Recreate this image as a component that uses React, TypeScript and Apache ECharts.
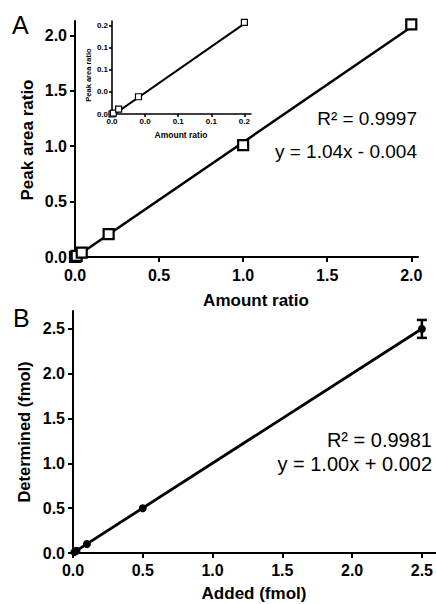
import React, { useEffect, useRef } from "react";
import * as echarts from "echarts";

// Panel A data
const amountA = [0, 0.002, 0.01, 0.04, 0.2, 1.0, 2.0];
const peakA = [0, 0.002, 0.011, 0.039, 0.207, 1.01, 2.1];
const fitAx = [0, 2.0];
const fitAy = [-0.004, 2.076];
const insetFitX = [0, 0.2];
const insetFitY = [-0.004, 0.204];
const ticksA = [0, 0.5, 1.0, 1.5, 2.0];
const insetTicks = [0, 0.05, 0.1, 0.15, 0.2];
const insetTickLabels = ["0.0", "0.0", "0.1", "0.1", "0.2"];

// Panel B data
const addedB = [0.01, 0.025, 0.1, 0.5, 2.5];
const detB = [0.01, 0.025, 0.1, 0.5, 2.5];
const errB = [0, 0, 0, 0, 0.1];
const fitBx = [0, 2.5];
const fitBy = [0.002, 2.502];
const ticksB = [0, 0.5, 1.0, 1.5, 2.0, 2.5];

const FONT = 'Arial, "Liberation Sans", Helvetica, sans-serif';

const axisCommon = (fs: number, margin: number, width = 2, tickLen = 5) => ({
  axisLine: { show: true, onZero: false, lineStyle: { color: "#000", width } },
  axisTick: { show: true, inside: false, length: tickLen, lineStyle: { color: "#000", width } },
  splitLine: { show: false },
  axisLabel: {
    color: "#000",
    fontFamily: FONT,
    fontWeight: "bold",
    fontSize: fs,
    margin,
    hideOverlap: false,
  },
});

export default function App() {
  const ref = useRef<HTMLDivElement>(null);
  useEffect(() => {
    if (!ref.current) return;
    const chart = echarts.init(ref.current, undefined, { renderer: "svg" });
    const mk = (xs: number[], ys: number[]) => xs.map((x, i) => [x, ys[i]]);
    const lbl = (v: number) => v.toFixed(1);
    const xA = axisCommon(16, 10);
    const yA = axisCommon(16, 8);
    const xI = axisCommon(8, 3, 1.6, 3);
    const yI = axisCommon(8, 4, 1.6, 3);
    const xB = axisCommon(16, 9);
    const yB = axisCommon(16, 8);
    const insetFmt = (v: number) => {
      const i = insetTicks.findIndex((t) => Math.abs(t - v) < 1e-6);
      return i >= 0 ? insetTickLabels[i] : "";
    };
    chart.setOption({
      animation: false,
      backgroundColor: "#fff",
      grid: [
        { left: 75, top: 21, width: 343, height: 236 },
        { left: 112, top: 21, width: 139, height: 93 },
        { left: 73, top: 311, width: 363, height: 242 },
      ],
      xAxis: [
        {
          gridIndex: 0, type: "value", min: 0, max: 2.04,
          ...xA,
          axisTick: { ...xA.axisTick, customValues: ticksA },
          axisLabel: { ...xA.axisLabel, customValues: ticksA, formatter: lbl },
        },
        {
          gridIndex: 1, type: "value", min: 0, max: 0.21,
          ...xI,
          axisTick: { ...xI.axisTick, customValues: insetTicks },
          axisLabel: { ...xI.axisLabel, customValues: insetTicks, formatter: insetFmt },
        },
        {
          gridIndex: 2, type: "value", min: 0, max: 2.6,
          ...xB,
          axisTick: { ...xB.axisTick, customValues: ticksB },
          axisLabel: { ...xB.axisLabel, customValues: ticksB, formatter: lbl },
        },
      ],
      yAxis: [
        {
          gridIndex: 0, type: "value", min: 0, max: 2.13,
          ...yA,
          axisTick: { ...yA.axisTick, customValues: ticksA },
          axisLabel: { ...yA.axisLabel, customValues: ticksA, formatter: lbl },
        },
        {
          gridIndex: 1, type: "value", min: 0, max: 0.21,
          ...yI,
          axisTick: { ...yI.axisTick, customValues: insetTicks },
          axisLabel: { ...yI.axisLabel, customValues: insetTicks, formatter: insetFmt },
        },
        {
          gridIndex: 2, type: "value", min: 0, max: 2.7,
          ...yB,
          axisTick: { ...yB.axisTick, customValues: ticksB },
          axisLabel: { ...yB.axisLabel, customValues: ticksB, formatter: lbl },
        },
      ],
      series: [
        {
          type: "line", xAxisIndex: 0, yAxisIndex: 0, data: mk(fitAx, fitAy),
          symbol: "none", lineStyle: { color: "#000", width: 2.5 }, z: 2,
        },
        {
          type: "scatter", xAxisIndex: 0, yAxisIndex: 0, data: mk(amountA, peakA),
          symbol: "rect", symbolSize: 10,
          itemStyle: { color: "#fff", borderColor: "#000", borderWidth: 2.2, opacity: 1 }, z: 3,
        },
        {
          type: "line", xAxisIndex: 1, yAxisIndex: 1, data: mk(insetFitX, insetFitY),
          symbol: "none", lineStyle: { color: "#000", width: 2 }, z: 2,
        },
        {
          type: "scatter", xAxisIndex: 1, yAxisIndex: 1, data: mk(amountA.slice(0, 5), peakA.slice(0, 5)),
          symbol: "rect", symbolSize: 6,
          itemStyle: { color: "#fff", borderColor: "#000", borderWidth: 1.2, opacity: 1 }, z: 3,
        },
        {
          type: "line", xAxisIndex: 2, yAxisIndex: 2, data: mk(fitBx, fitBy),
          symbol: "none", lineStyle: { color: "#000", width: 2.8 }, z: 2,
        },
        {
          type: "custom", xAxisIndex: 2, yAxisIndex: 2,
          data: addedB.map((x, i) => [x, detB[i], errB[i]]),
          renderItem: (params: any, api: any) => {
            const x = api.value(0);
            const y = api.value(1);
            const e = api.value(2);
            if (!e) return { type: "group", children: [] };
            const top = api.coord([x, y + e]);
            const bot = api.coord([x, y - e]);
            const hw = 5;
            const st = { stroke: "#000", lineWidth: 2.5 };
            return {
              type: "group",
              children: [
                { type: "line", shape: { x1: top[0], y1: top[1], x2: bot[0], y2: bot[1] }, style: st },
                { type: "line", shape: { x1: top[0] - hw, y1: top[1], x2: top[0] + hw, y2: top[1] }, style: st },
                { type: "line", shape: { x1: bot[0] - hw, y1: bot[1], x2: bot[0] + hw, y2: bot[1] }, style: st },
              ],
            };
          },
          z: 3,
        },
        {
          type: "scatter", xAxisIndex: 2, yAxisIndex: 2, data: mk(addedB, detB),
          symbol: "circle", symbolSize: 8,
          itemStyle: { color: "#000", opacity: 1 }, z: 4,
        },
      ],
      graphic: [
        { type: "text", left: 12, top: 12, style: { text: "A", fontSize: 25, fontFamily: FONT, fill: "#000" } },
        { type: "text", left: 13, top: 305, style: { text: "B", fontSize: 25, fontFamily: FONT, fill: "#000" } },
        {
          type: "text", x: 27, y: 140, rotation: Math.PI / 2,
          style: { text: "Peak area ratio", fontSize: 17, fontWeight: "bold", fontFamily: FONT, fill: "#000", align: "center", verticalAlign: "middle" },
        },
        {
          type: "text", x: 256, y: 300,
          style: { text: "Amount ratio", fontSize: 17, fontWeight: "bold", fontFamily: FONT, fill: "#000", align: "center", verticalAlign: "middle" },
        },
        {
          type: "text", x: 88, y: 75, rotation: Math.PI / 2,
          style: { text: "Peak area ratio", fontSize: 7.5, fontWeight: "bold", fontFamily: FONT, fill: "#000", align: "center", verticalAlign: "middle" },
        },
        {
          type: "text", x: 181, y: 135,
          style: { text: "Amount ratio", fontSize: 8.5, fontWeight: "bold", fontFamily: FONT, fill: "#000", align: "center", verticalAlign: "middle" },
        },
        {
          type: "text", x: 417, y: 118,
          style: { text: "R² = 0.9997", fontSize: 19, fontFamily: FONT, fill: "#000", align: "right", verticalAlign: "middle" },
        },
        {
          type: "text", x: 417, y: 151,
          style: { text: "y = 1.04x - 0.004", fontSize: 19, fontFamily: FONT, fill: "#000", align: "right", verticalAlign: "middle" },
        },
        {
          type: "text", x: 24, y: 432, rotation: Math.PI / 2,
          style: { text: "Determined (fmol)", fontSize: 16.5, fontWeight: "bold", fontFamily: FONT, fill: "#000", align: "center", verticalAlign: "middle" },
        },
        {
          type: "text", x: 254, y: 593,
          style: { text: "Added (fmol)", fontSize: 17, fontWeight: "bold", fontFamily: FONT, fill: "#000", align: "center", verticalAlign: "middle" },
        },
        {
          type: "text", x: 432, y: 440,
          style: { text: "R² = 0.9981", fontSize: 20, fontFamily: FONT, fill: "#000", align: "right", verticalAlign: "middle" },
        },
        {
          type: "text", x: 432, y: 464,
          style: { text: "y = 1.00x + 0.002", fontSize: 20, fontFamily: FONT, fill: "#000", align: "right", verticalAlign: "middle" },
        },
      ],
    });
    return () => chart.dispose();
  }, []);
  return (
    <div
      ref={ref}
      style={{ position: "absolute", left: 0, top: 0, width: 436, height: 604 }}
    />
  );
}
